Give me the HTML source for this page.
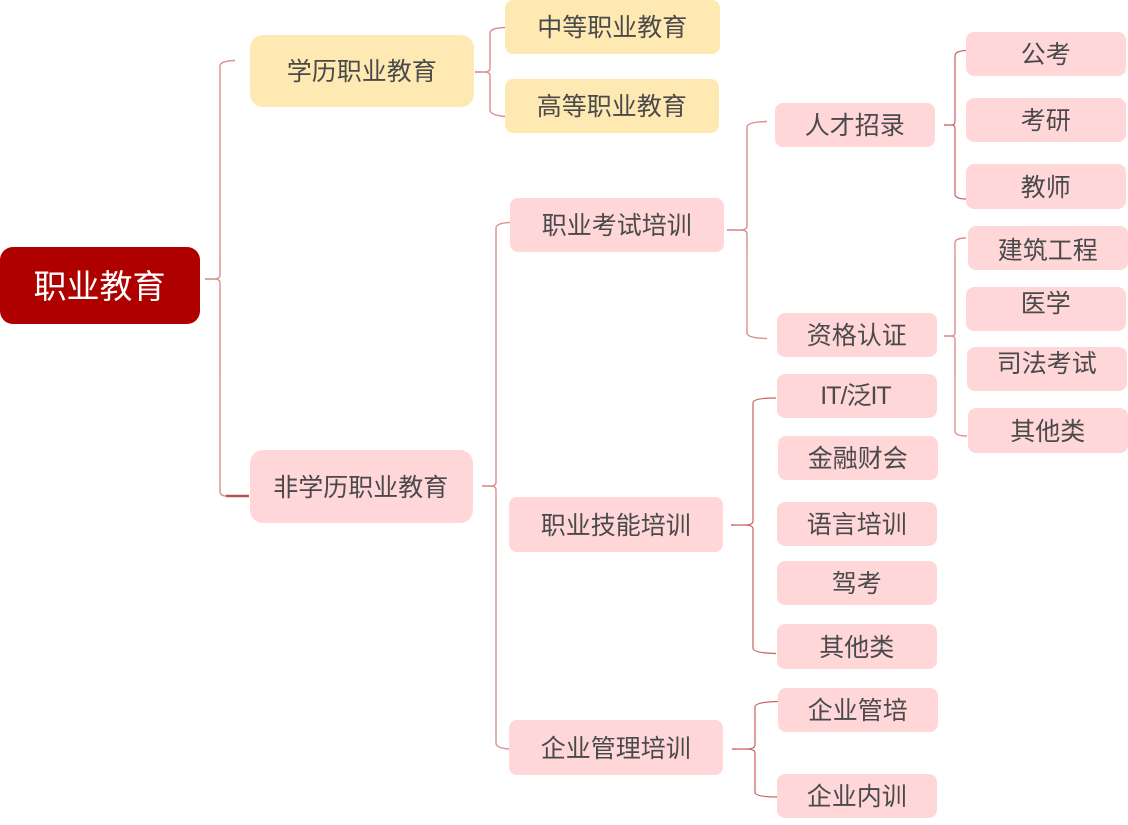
<!DOCTYPE html>
<html lang="zh"><head><meta charset="utf-8"><title>职业教育</title>
<style>
html,body{margin:0;padding:0;background:#fff}
#c{position:relative;width:1128px;height:825px;overflow:hidden;background:#fff;font-family:"Liberation Sans","Noto Sans CJK SC",sans-serif}
svg{position:absolute;left:0;top:0}
.n{position:absolute;box-sizing:border-box;background:#ffd7d8;border-radius:8px;color:#4a4a4a;font-size:25px;line-height:30px;white-space:nowrap}
.n span{position:absolute;left:-.5px;right:0;text-align:center;margin-top:2px}
.y{background:#ffe9b3}
.b{border-radius:13px}
</style></head><body><div id="c">
<svg width="1128" height="825" fill="none" stroke="#c9625f" stroke-width="1.2">
<g opacity=".7" stroke-width="1.4">
<path d="M205 279C214 279 220 280 220 275V66Q220 61 235 60.5"/>
<path d="M205 279C214 279 220 278 220 283V491Q220 496 226 496"/>
<path d="M475 72C484 72 490 73 490 68V33Q490 28 505 27.5"/>
<path d="M475 72C484 72 490 71 490 76V110Q490 115 505 116.5"/>
<path d="M482 486C491 486 496 487 496 482V228Q496 223 510 222.5"/>
<path d="M482 486C491 486 496 485 496 490V743Q496 748 509 749"/>
<path d="M727 230C740 230 747 231 747 226V127Q747 122 767 121.5"/>
<path d="M727 230C740 230 747 229 747 234V333Q747 338 767 338.5"/>
<path d="M944 336C952 336 955 337 955 332V243Q955 238 966 238"/>
<path d="M944 336C952 336 955 335 955 340V431Q955 436 967 436"/>
</g>
<path d="M944 125C952 125 955 126 955 121V56Q955 51 966 50.5"/>
<path d="M944 125C952 125 955 124 955 129V194Q955 199 966 199"/>
<path d="M731 525C745 525 753 526 753 521V403Q753 398 776 398"/>
<path d="M731 525C745 525 753 524 753 529V648Q753 653 776 653.5"/>
<path d="M732 749C746 749 755 750 755 745V707Q755 702 778 701.5"/>
<path d="M732 749C746 749 755 748 755 753V792Q755 797 777 797"/>
<path d="M226 496H249" stroke-width="2.5" stroke="#c0504d"/>
</svg>

<div class="n b" style="left:0;top:247px;width:200px;height:77px;background:#af0000;color:#fff;font-size:33px"><span style="top:22px;line-height:36px;left:0;right:1px;margin-top:0">职业教育</span></div>

<div class="n y b" style="left:250px;top:35px;width:224px;height:72px"><span style="top:20px">学历职业教育</span></div>
<div class="n b" style="left:250px;top:450px;width:223px;height:73px"><span style="top:21px;left:-1.5px">非学历职业教育</span></div>

<div class="n y" style="left:505px;top:0;width:215px;height:54px"><span style="top:11px">中等职业教育</span></div>
<div class="n y" style="left:505px;top:79px;width:214px;height:54px"><span style="top:11px">高等职业教育</span></div>
<div class="n" style="left:510px;top:198px;width:214px;height:54px"><span style="top:11px">职业考试培训</span></div>
<div class="n" style="left:509px;top:497px;width:214px;height:55px"><span style="top:12px">职业技能培训</span></div>
<div class="n" style="left:509px;top:720px;width:214px;height:55px"><span style="top:12px">企业管理培训</span></div>

<div class="n" style="left:775px;top:103px;width:160px;height:44px"><span style="top:6px">人才招录</span></div>
<div class="n" style="left:777px;top:313px;width:160px;height:44px"><span style="top:6px">资格认证</span></div>
<div class="n" style="left:777px;top:374px;width:160px;height:44px"><span style="top:5px;left:-3px;letter-spacing:-1px">IT/泛IT</span></div>
<div class="n" style="left:778px;top:436px;width:160px;height:44px"><span style="top:6px">金融财会</span></div>
<div class="n" style="left:777px;top:502px;width:160px;height:44px"><span style="top:6px">语言培训</span></div>
<div class="n" style="left:777px;top:561px;width:160px;height:44px"><span style="top:6px">驾考</span></div>
<div class="n" style="left:777px;top:624px;width:160px;height:45px"><span style="top:7px">其他类</span></div>
<div class="n" style="left:778px;top:688px;width:160px;height:44px"><span style="top:6px">企业管培</span></div>
<div class="n" style="left:777px;top:774px;width:160px;height:44px"><span style="top:6px">企业内训</span></div>

<div class="n" style="left:966px;top:32px;width:160px;height:44px"><span style="top:6px">公考</span></div>
<div class="n" style="left:966px;top:98px;width:160px;height:44px"><span style="top:6px">考研</span></div>
<div class="n" style="left:966px;top:164px;width:160px;height:45px"><span style="top:7px">教师</span></div>
<div class="n" style="left:968px;top:226px;width:160px;height:44px"><span style="top:8px">建筑工程</span></div>
<div class="n" style="left:966px;top:287px;width:160px;height:44px"><span style="top:0">医学</span></div>
<div class="n" style="left:967px;top:347px;width:160px;height:44px"><span style="top:0">司法考试</span></div>
<div class="n" style="left:968px;top:408px;width:160px;height:45px"><span style="top:7px">其他类</span></div>
</div></body></html>
